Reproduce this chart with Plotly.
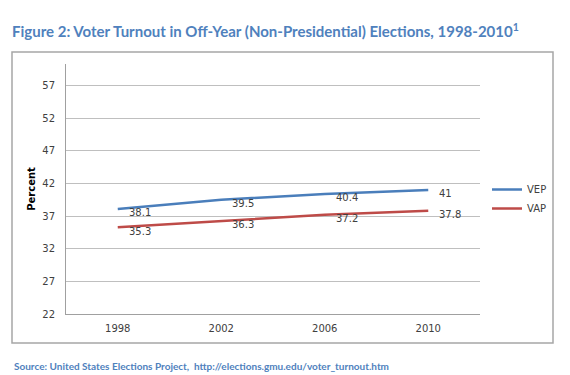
import plotly.graph_objects as go

years = ["1998", "2002", "2006", "2010"]
vep = [38.1, 39.5, 40.4, 41]
vap = [35.3, 36.3, 37.2, 37.8]
y_ticks = [22, 27, 32, 37, 42, 47, 52, 57]

BLUE = "#4A7EBB"
RED = "#BE4B48"
TXT = "#404040"
TFONT = "DejaVu Sans"

OFF = 8
W, H = 570 - OFF, 375 - OFF
PX0, PX1, PY0, PY1 = 66, 480, 64, 314
L, R, T, B = PX0 - OFF, (570 - PX1), PY0 - OFF, (375 - PY1)
pw, ph = PX1 - PX0, PY1 - PY0

def px(x):
    return (x - PX0) / pw

def py(y):
    return (PY1 - y) / ph

fig = go.Figure()
fig.add_trace(go.Scatter(x=years, y=vep, mode="lines", name="VEP",
                         line=dict(color=BLUE, width=2.5)))
fig.add_trace(go.Scatter(x=years, y=vap, mode="lines", name="VAP",
                         line=dict(color=RED, width=2.5)))

annotations = []
for series in (vep, vap):
    for i, v in enumerate(series):
        annotations.append(dict(x=i, y=v, xref="x", yref="y", text=f"{v:g}",
                                showarrow=False, xanchor="left", yanchor="middle",
                                xshift=9, yshift=-4,
                                font=dict(family=TFONT, size=10, color=TXT)))

annotations.append(dict(x=px(12), y=py(366), xref="paper", yref="paper",
                        xanchor="left", yanchor="middle", showarrow=False,
                        text="<b>Source: United States Elections Project,  http://elections.gmu.edu/voter_turnout.htm</b>",
                        font=dict(family="Lato", size=10, color="#4F81BD")))

fig.update_layout(
    width=W, height=H,
    margin=dict(l=L, r=R, t=T, b=B),
    paper_bgcolor="white", plot_bgcolor="white",
    title=dict(text="<b>Figure 2: Voter Turnout in Off-Year (Non-Presidential) Elections, 1998-2010<sup>1</sup></b>",
               x=(12 - OFF) / W, xanchor="left", y=1 - (32 - OFF) / H, yanchor="middle",
               font=dict(family="Lato", size=15, color="#4F81BD")),
    xaxis=dict(type="category", showgrid=False, showline=True, linecolor="#A0A0A0",
               ticks="", tickfont=dict(family=TFONT, size=10, color=TXT),
               ticklabelstandoff=5, range=[-0.5, 3.5]),
    yaxis=dict(range=[22, 60.3], tickvals=y_ticks, showgrid=True, gridcolor="#BFBFBF",
               showline=True, linecolor="#A0A0A0", ticks="", zeroline=False,
               tickfont=dict(family=TFONT, size=10, color=TXT),
               ticklabelstandoff=8,
               title=dict(text="<b>Percent</b>", font=dict(family=TFONT, size=10, color="black"),
                          standoff=4)),
    legend=dict(x=px(487), y=py(175), xanchor="left", yanchor="top",
                font=dict(family=TFONT, size=10, color=TXT), tracegroupgap=4,
                bgcolor="rgba(0,0,0,0)"),
    annotations=annotations,
    shapes=[dict(type="rect", xref="paper", yref="paper",
                 x0=px(12), x1=px(553), y0=py(343), y1=py(52),
                 line=dict(color="#A6A6A6", width=1.5), layer="below")],
)

fig.write_html("out.html")
